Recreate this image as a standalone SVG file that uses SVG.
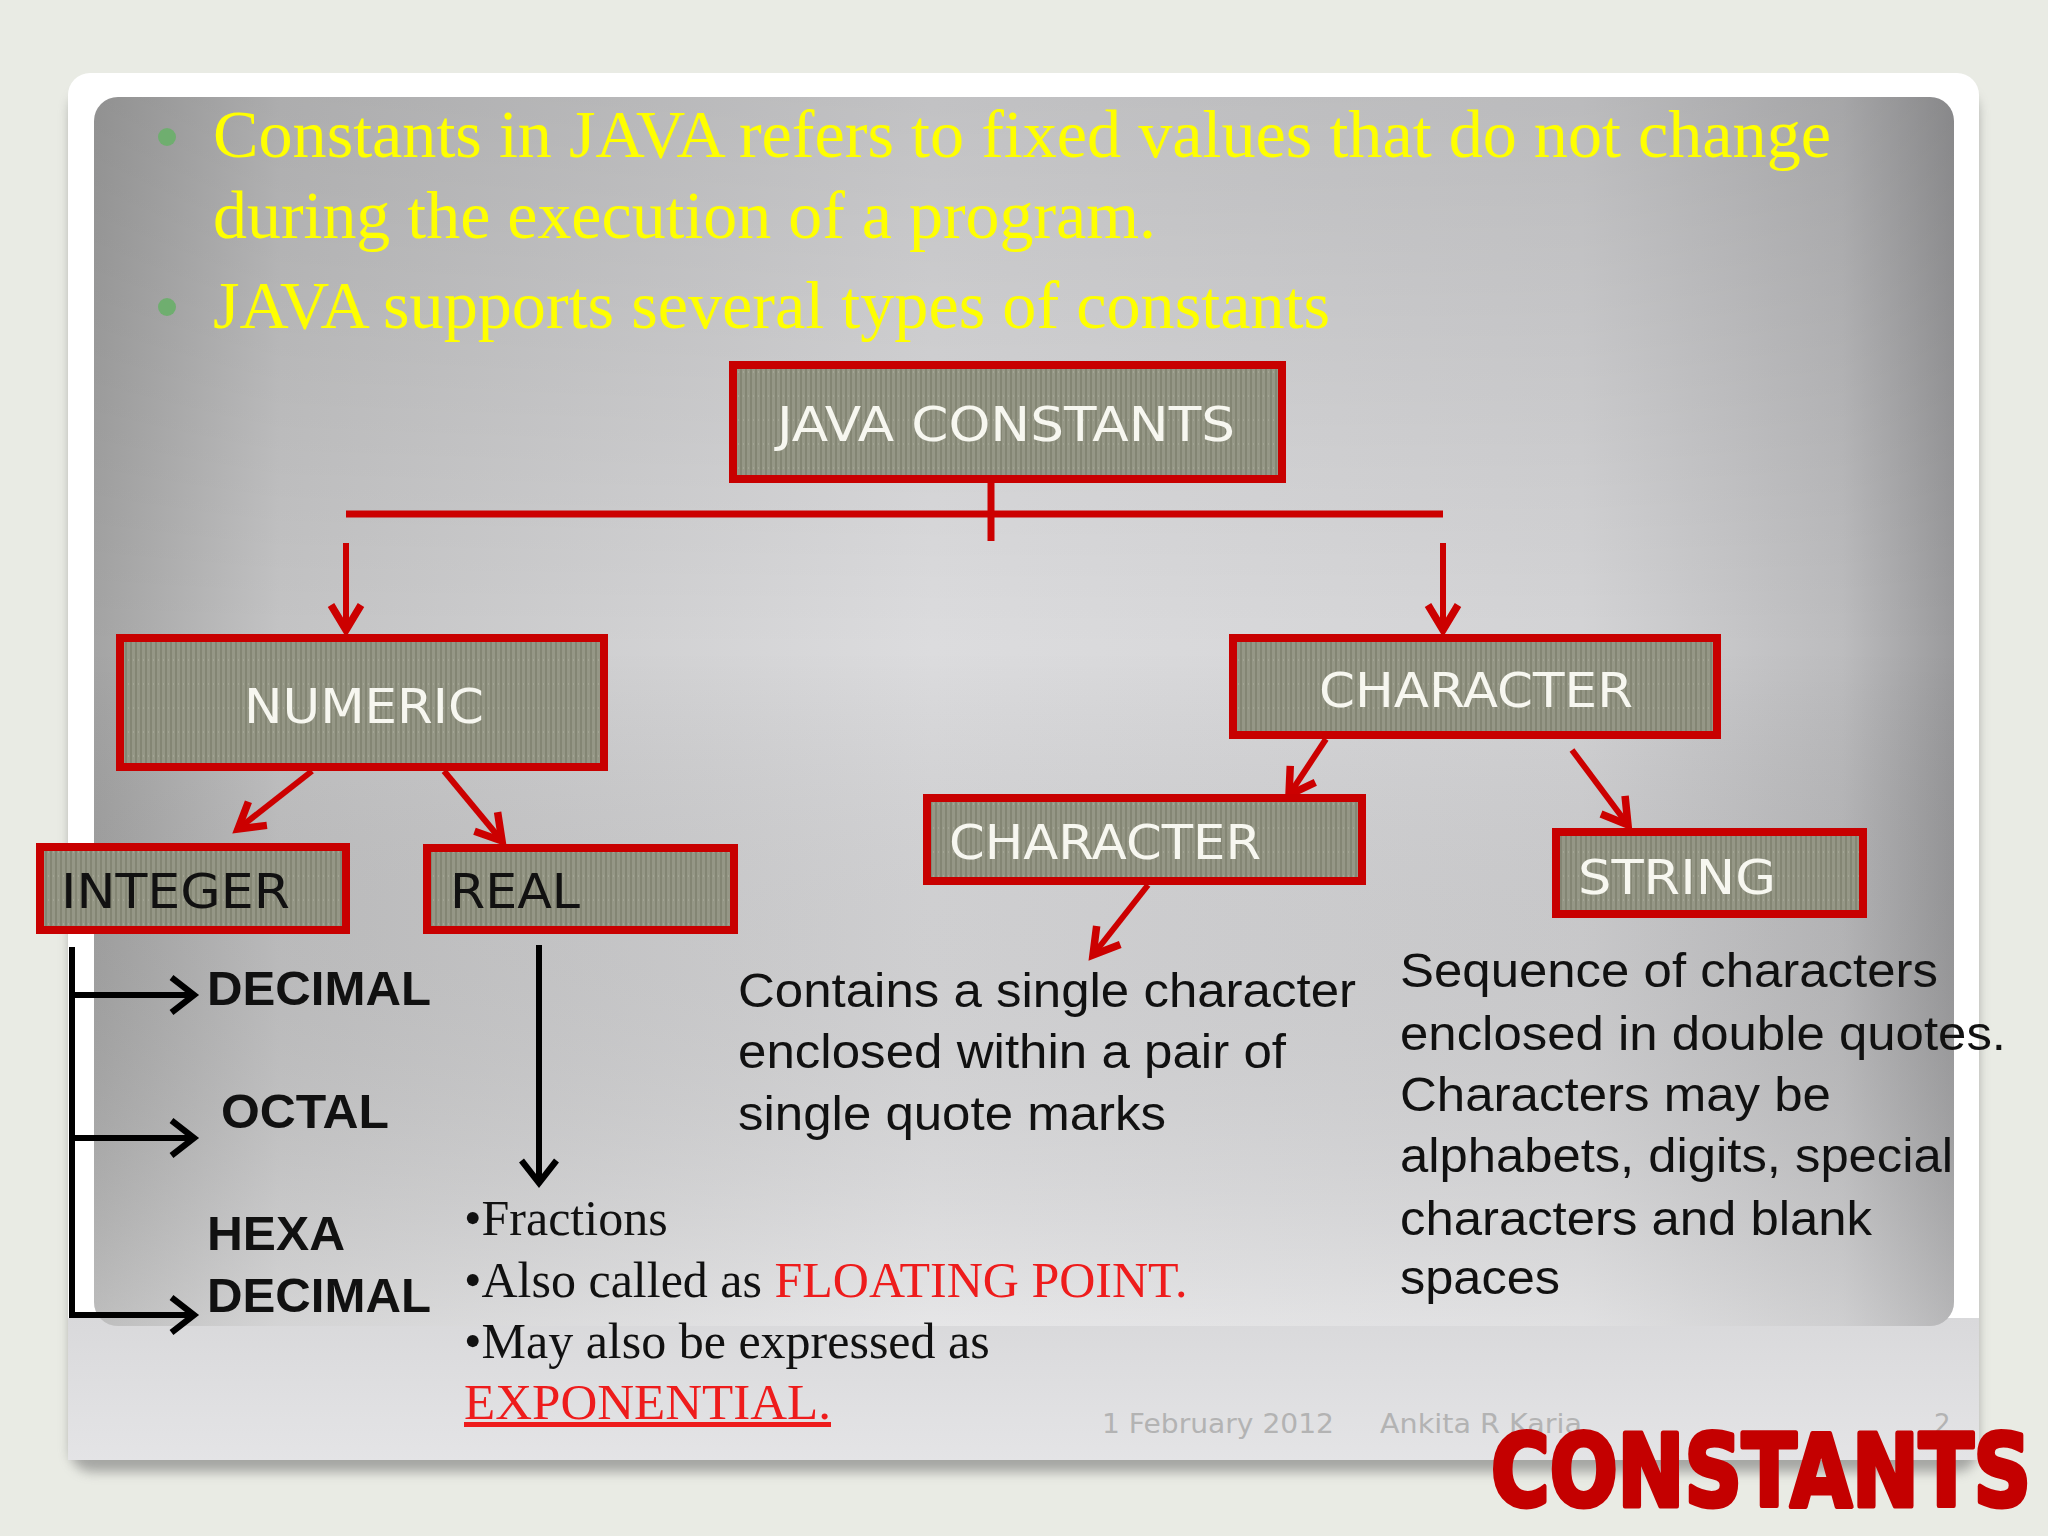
<svg xmlns="http://www.w3.org/2000/svg" width="2048" height="1536" viewBox="0 0 2048 1536">
<defs>
  <linearGradient id="panelH" x1="0" y1="0" x2="1" y2="0">
    <stop offset="0" stop-color="#a4a4a4"/>
    <stop offset="0.1" stop-color="#c4c4c5"/>
    <stop offset="0.45" stop-color="#dcdcde"/>
    <stop offset="0.8" stop-color="#d4d4d6"/>
    <stop offset="0.94" stop-color="#bcbcbe"/>
    <stop offset="1" stop-color="#9a9a9c"/>
  </linearGradient>
  <linearGradient id="panelV" x1="0" y1="0" x2="0" y2="1">
    <stop offset="0" stop-color="#000" stop-opacity="0.12"/>
    <stop offset="0.45" stop-color="#000" stop-opacity="0"/>
    <stop offset="1" stop-color="#fff" stop-opacity="0.28"/>
  </linearGradient>
  <linearGradient id="bottomG" x1="0" y1="0" x2="0" y2="1">
    <stop offset="0" stop-color="#d9d9db"/>
    <stop offset="1" stop-color="#e4e4e6"/>
  </linearGradient>
  <pattern id="stripes" width="5" height="24" patternUnits="userSpaceOnUse">
    <rect width="5" height="24" fill="#959786"/>
    <rect x="0" y="0" width="2" height="24" fill="#848674"/>
    <rect x="3" y="11" width="1" height="2" fill="#a3a594"/>
  </pattern>
  <filter id="shadow" x="-5%" y="-5%" width="110%" height="115%">
    <feGaussianBlur stdDeviation="6"/>
  </filter>
  <marker id="redHead" markerUnits="userSpaceOnUse" markerWidth="40" markerHeight="40" refX="0" refY="0" viewBox="-24 -16 28 32" orient="auto" overflow="visible">
    <path d="M-20,-12 L0,0 L-20,12" fill="none" stroke="#cc0000" stroke-width="6" stroke-linejoin="miter"/>
  </marker>
  <marker id="blackHead" markerUnits="userSpaceOnUse" markerWidth="40" markerHeight="40" refX="0" refY="0" viewBox="-24 -16 28 32" orient="auto" overflow="visible">
    <path d="M-18,-14 L0,0 L-18,14" fill="none" stroke="#000" stroke-width="5"/>
  </marker>
  <style>
    .box { fill: url(#stripes); stroke: #c80000; stroke-width: 8; }
    .lbl { font-family: "DejaVu Sans", "Open Sans", sans-serif; font-size: 48px; fill: #f7f7f0; }
    .lblDark { font-family: "DejaVu Sans", "Open Sans", sans-serif; font-size: 48px; fill: #111; }
    .yellow { font-family: "Liberation Serif", "Times New Roman", serif; font-size: 67px; fill: #ffff00; }
    .serif { font-family: "Liberation Serif", "Times New Roman", serif; font-size: 50px; fill: #111; }
    .red { fill: #ee1c1c; }
    .sans { font-family: "Liberation Sans", Arial, sans-serif; font-size: 49px; fill: #111; }
    .bold { font-family: "Liberation Sans", Arial, sans-serif; font-size: 49px; font-weight: bold; fill: #111; }
    .foot { font-family: "DejaVu Sans", sans-serif; font-size: 26px; fill: #b3b3b3; }
    .redLine { stroke: #cc0000; stroke-width: 7; fill: none; }
    .redArrow { stroke: #cc0000; stroke-width: 6; fill: none; marker-end: url(#redHead); }
    .blackLine { stroke: #000; stroke-width: 6; fill: none; }
    .blackArrow { stroke: #000; stroke-width: 6; fill: none; marker-end: url(#blackHead); }
  </style>
</defs>

<!-- page background -->
<rect width="2048" height="1536" fill="#e9ebe4"/>

<!-- slide -->
<g id="slide">
  <rect x="70" y="90" width="1908" height="1382" rx="22" fill="#6e6e6e" opacity="0.55" filter="url(#shadow)"/>
  <rect x="68" y="73" width="1911" height="1387" rx="22" fill="#ffffff"/>
  <rect x="68" y="1318" width="1911" height="142" fill="url(#bottomG)"/>
  <rect x="94" y="97" width="1860" height="1229" rx="24" fill="url(#panelH)"/>
  <rect x="94" y="97" width="1860" height="1229" rx="24" fill="url(#panelV)"/>
</g>

<!-- bullets -->
<g id="intro">
  <circle cx="167" cy="137" r="9" fill="#6fae6f"/>
  <circle cx="167" cy="307" r="9" fill="#6fae6f"/>
  <text class="yellow" x="213" y="157" textLength="1618" lengthAdjust="spacingAndGlyphs">Constants in JAVA refers to fixed values that do not change</text>
  <text class="yellow" x="213" y="238" textLength="943" lengthAdjust="spacingAndGlyphs">during the execution of a program.</text>
  <text class="yellow" x="213" y="328" textLength="1117" lengthAdjust="spacingAndGlyphs">JAVA supports several types of constants</text>
</g>

<!-- connectors -->
<g id="connectors">
  <line class="redLine" x1="991" y1="483" x2="991" y2="541"/>
  <line class="redLine" x1="346" y1="514" x2="1443" y2="514"/>
  <line class="redArrow" x1="346" y1="543" x2="346" y2="630"/>
  <line class="redArrow" x1="1443" y1="543" x2="1443" y2="630"/>
  <line class="redArrow" x1="312" y1="771" x2="238" y2="829"/>
  <line class="redArrow" x1="444" y1="771" x2="502" y2="841"/>
  <line class="redArrow" x1="1326" y1="739" x2="1289" y2="795"/>
  <line class="redArrow" x1="1572" y1="750" x2="1628" y2="825"/>
  <line class="redArrow" x1="1148" y1="885" x2="1093" y2="955"/>
  <line class="blackLine" x1="72" y1="947" x2="72" y2="1318"/>
  <line class="blackArrow" x1="69" y1="995" x2="194" y2="995"/>
  <line class="blackArrow" x1="69" y1="1138" x2="194" y2="1138"/>
  <line class="blackArrow" x1="69" y1="1315" x2="194" y2="1315"/>
  <line class="blackArrow" x1="539" y1="945" x2="539" y2="1183"/>
</g>

<!-- nodes -->
<g id="node-java-constants">
  <rect class="box" x="733" y="365" width="549" height="114"/>
  <text class="lbl" x="777" y="441" textLength="458" lengthAdjust="spacingAndGlyphs">JAVA CONSTANTS</text>
</g>
<g id="node-numeric">
  <rect class="box" x="120" y="638" width="484" height="129"/>
  <text class="lbl" x="244" y="723" textLength="240" lengthAdjust="spacingAndGlyphs">NUMERIC</text>
</g>
<g id="node-character">
  <rect class="box" x="1233" y="638" width="484" height="97"/>
  <text class="lbl" x="1319" y="707" textLength="314" lengthAdjust="spacingAndGlyphs">CHARACTER</text>
</g>
<g id="node-integer">
  <rect class="box" x="40" y="847" width="306" height="83"/>
  <text class="lblDark" x="61" y="908" textLength="229" lengthAdjust="spacingAndGlyphs">INTEGER</text>
</g>
<g id="node-real">
  <rect class="box" x="427" y="848" width="307" height="82"/>
  <text class="lblDark" x="450" y="908" textLength="130" lengthAdjust="spacingAndGlyphs">REAL</text>
</g>
<g id="node-character-sub">
  <rect class="box" x="927" y="798" width="435" height="83"/>
  <text class="lbl" x="949" y="859" textLength="312" lengthAdjust="spacingAndGlyphs">CHARACTER</text>
</g>
<g id="node-string">
  <rect class="box" x="1556" y="832" width="307" height="82"/>
  <text class="lbl" x="1578" y="894" textLength="198" lengthAdjust="spacingAndGlyphs">STRING</text>
</g>

<!-- integer kinds -->
<g id="integer-kinds">
  <text class="bold" x="207" y="1005" textLength="224" lengthAdjust="spacingAndGlyphs">DECIMAL</text>
  <text class="bold" x="221" y="1128" textLength="168" lengthAdjust="spacingAndGlyphs">OCTAL</text>
  <text class="bold" x="207" y="1250" textLength="138" lengthAdjust="spacingAndGlyphs">HEXA</text>
  <text class="bold" x="207" y="1312" textLength="224" lengthAdjust="spacingAndGlyphs">DECIMAL</text>
</g>

<!-- real notes -->
<g id="real-notes">
  <text class="serif" x="464" y="1235">•Fractions</text>
  <text class="serif" x="464" y="1297">•Also called as <tspan class="red">FLOATING POINT.</tspan></text>
  <text class="serif" x="464" y="1358">•May also be expressed as</text>
  <text class="serif red" x="464" y="1419" text-decoration="underline" textLength="367" lengthAdjust="spacingAndGlyphs">EXPONENTIAL.</text>
</g>

<!-- character note -->
<g id="character-note">
  <text class="sans" x="738" y="1007" textLength="618" lengthAdjust="spacingAndGlyphs">Contains a single character</text>
  <text class="sans" x="738" y="1068" textLength="548" lengthAdjust="spacingAndGlyphs">enclosed within a pair of</text>
  <text class="sans" x="738" y="1130" textLength="428" lengthAdjust="spacingAndGlyphs">single quote marks</text>
</g>

<!-- string note -->
<g id="string-note">
  <text class="sans" x="1400" y="987" textLength="538" lengthAdjust="spacingAndGlyphs">Sequence of characters</text>
  <text class="sans" x="1400" y="1050" textLength="606" lengthAdjust="spacingAndGlyphs">enclosed in double quotes.</text>
  <text class="sans" x="1400" y="1111" textLength="431" lengthAdjust="spacingAndGlyphs">Characters may be</text>
  <text class="sans" x="1400" y="1172" textLength="553" lengthAdjust="spacingAndGlyphs">alphabets, digits, special</text>
  <text class="sans" x="1400" y="1235" textLength="472" lengthAdjust="spacingAndGlyphs">characters and blank</text>
  <text class="sans" x="1400" y="1294" textLength="160" lengthAdjust="spacingAndGlyphs">spaces</text>
</g>

<!-- footer -->
<g id="footer">
  <text class="foot" x="1102" y="1433" textLength="232" lengthAdjust="spacingAndGlyphs">1 February 2012</text>
  <text class="foot" x="1380" y="1433" textLength="202" lengthAdjust="spacingAndGlyphs">Ankita R Karia</text>
  <text class="foot" x="1934" y="1433">2</text>
</g>

<!-- title stamp -->
<g id="stamp">
  <text x="1491" y="1506" font-family="'DejaVu Sans', sans-serif" font-weight="bold" font-size="100" fill="#c40000" stroke="#c40000" stroke-width="5" stroke-linejoin="round" textLength="540" lengthAdjust="spacingAndGlyphs">CONSTANTS</text>
</g>
</svg>
